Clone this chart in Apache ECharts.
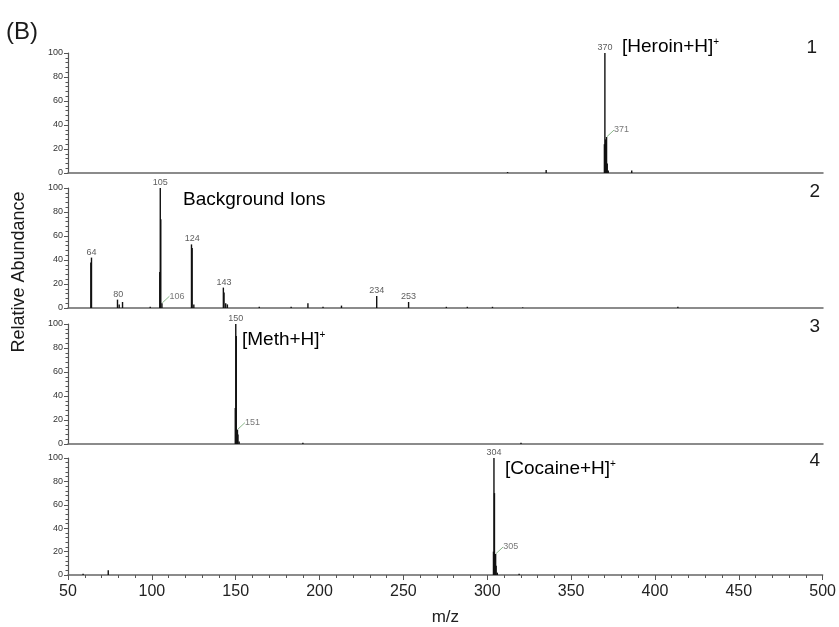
<!DOCTYPE html>
<html><head><meta charset="utf-8">
<script src="https://cdn.jsdelivr.net/npm/echarts@6/dist/echarts.min.js"></script>
<style>html,body{margin:0;padding:0;background:#fff}#c{width:839px;height:627px}</style>
</head><body><div id="c"></div>
<script>
// ---- data ----
const xTicks = [50, 100, 150, 200, 250, 300, 350, 400, 450, 500];
const yTicks = [0, 20, 40, 60, 80, 100];

// Panel 1: Heroin
const heroinMz  = [312, 335, 369.7, 370, 370.4, 371, 371.4, 372, 386];
const heroinInt = [0.8, 2.5, 24, 100, 28, 30, 8, 2, 2];
// Panel 2: background ions
const bgMz  = [63.6, 64, 79.5, 80.5, 82.5, 99, 104.7, 105, 105.3, 106, 123.6, 124, 125, 142.6, 143, 144, 145, 164, 183, 193, 202, 213, 234, 253, 275.5, 288, 303, 321, 413.5];
const bgInt = [38, 42, 7, 3, 5, 1, 30, 100, 74, 4, 53, 50, 3, 17, 13, 4, 3, 1, 1, 4, 1, 2, 10, 5, 1, 1, 1, 0.5, 1];
// Panel 3: Meth
const methMz  = [149.7, 150, 150.3, 151, 151.3, 152, 190, 320];
const methInt = [30, 100, 90, 12, 8, 2, 1, 1];
// Panel 4: Cocaine
const cocMz  = [59, 74, 303.7, 304, 304.3, 305, 305.3, 306, 319];
const cocInt = [1, 4, 20, 100, 70, 18, 8, 2, 1];

// peak labels (drawn above peak)
const heroinTop = [370];
const bgTop = [64, 80, 105, 124, 143, 234, 253];
const methTop = [150];
const cocTop = [304];
// isotope labels (with leader)
const heroinIso = [371];
const bgIso = [106];
const methIso = [151];
const cocIso = [305];

const panelTitles = ['[Heroin+H]', 'Background Ions', '[Meth+H]', '[Cocaine+H]'];
const panelNums = ['1', '2', '3', '4'];

// ---- build ----
const panels = [
  {mz: heroinMz, it: heroinInt, top: heroinTop, iso: heroinIso},
  {mz: bgMz, it: bgInt, top: bgTop, iso: bgIso},
  {mz: methMz, it: methInt, top: methTop, iso: methIso},
  {mz: cocMz, it: cocInt, top: cocTop, iso: cocIso}
];
const gridTops = [53, 188, 324, 458];
const gridH = [120, 120, 120, 121];
const FONT = 'Arial, "Liberation Sans", sans-serif';

function lookup(p, m) {
  let best = 0;
  p.mz.forEach((v, j) => { if (Math.round(v) === m && p.it[j] > best) best = p.it[j]; });
  return best;
}

const grid = [], xAxis = [], yAxis = [], series = [];
panels.forEach((p, i) => {
  const last = i === 3;
  grid.push({left: 68, right: 16, top: gridTops[i], height: gridH[i]});
  xAxis.push({
    type: 'value', gridIndex: i, min: xTicks[0], max: xTicks[xTicks.length - 1], interval: 50,
    axisLine: {show: true, onZero: false, lineStyle: {color: '#666', width: 1.5}},
    axisTick: {show: last, length: 5, lineStyle: {color: '#555'}},
    minorTick: {show: last, splitNumber: 5, length: 3, lineStyle: {color: '#555'}},
    axisLabel: {show: last, fontSize: 16, color: '#222', margin: 9, fontFamily: FONT},
    splitLine: {show: false},
    name: last ? 'm/z' : '', nameLocation: 'middle', nameGap: 34,
    nameTextStyle: {fontSize: 17, color: '#222', fontFamily: FONT}
  });
  yAxis.push({
    type: 'value', gridIndex: i, min: yTicks[0], max: yTicks[yTicks.length - 1], interval: 20,
    axisLine: {show: true, lineStyle: {color: '#555', width: 1.2}},
    axisTick: {show: true, length: 4, lineStyle: {color: '#555'}},
    minorTick: {show: true, splitNumber: 5, length: 2.5, lineStyle: {color: '#555'}},
    axisLabel: {fontSize: 9, color: '#333', margin: 5, fontFamily: FONT},
    splitLine: {show: false}
  });
  series.push({
    type: 'bar', xAxisIndex: i, yAxisIndex: i, barWidth: 1.4, silent: true,
    itemStyle: {color: '#111'},
    data: p.mz.map((m, j) => [m, p.it[j]])
  });
  series.push({
    type: 'scatter', xAxisIndex: i, yAxisIndex: i, symbolSize: 0, silent: true,
    data: p.top.map(m => [m, lookup(p, m), String(m)]),
    label: {show: true, position: 'top', distance: 1, fontSize: 9, color: '#333',
      fontFamily: FONT, formatter: q => q.value[2]}
  });
  series.push({
    type: 'scatter', xAxisIndex: i, yAxisIndex: i, symbolSize: 1, silent: true,
    itemStyle: {color: 'rgba(0,0,0,0)'},
    data: p.iso.map(m => [m, lookup(p, m), String(m)]),
    label: {show: true, position: 'right', distance: 2, fontSize: 9, color: '#555',
      fontFamily: FONT, formatter: q => q.value[2]},
    labelLayout: {dx: 5, dy: -7},
    labelLine: {show: true, lineStyle: {color: '#8bb88b', width: 1}}
  });
});

const rich = {a: {fontSize: 19, fontFamily: FONT, color: '#1a1a1a'},
              s: {fontSize: 10, fontFamily: FONT, color: '#1a1a1a', verticalAlign: 'top', padding: [0, 0, 8, 0]}};
const titlePos = [[622, 47], [183, 200], [242, 340], [505, 469]];
const numPos = [[817, 48], [820, 192], [820, 327], [820, 461]];
const graphic = [
  {type: 'text', left: 6, top: 20, style: {text: '(B)', fill: '#1a1a1a', font: '24px ' + FONT}},
  {type: 'text', x: 19, y: 272, rotation: Math.PI / 2,
   style: {text: 'Relative Abundance', fill: '#1a1a1a', font: '18px ' + FONT, textAlign: 'center', textVerticalAlign: 'middle'}}
];
panelTitles.forEach((t, i) => {
  const sup = i !== 1;
  graphic.push({type: 'text', x: titlePos[i][0], y: titlePos[i][1],
    style: {text: sup ? '{a|' + t + '}{s|+}' : '{a|' + t + '}', rich: rich, textVerticalAlign: 'middle'}});
  graphic.push({type: 'text', x: numPos[i][0], y: numPos[i][1],
    style: {text: panelNums[i], fill: '#1a1a1a', font: '19px ' + FONT, textAlign: 'right', textVerticalAlign: 'middle'}});
});

const chart = echarts.init(document.getElementById('c'), null, {renderer: 'canvas'});
chart.setOption({animation: false, backgroundColor: '#fff', grid, xAxis, yAxis, series, graphic});
</script></body></html>
